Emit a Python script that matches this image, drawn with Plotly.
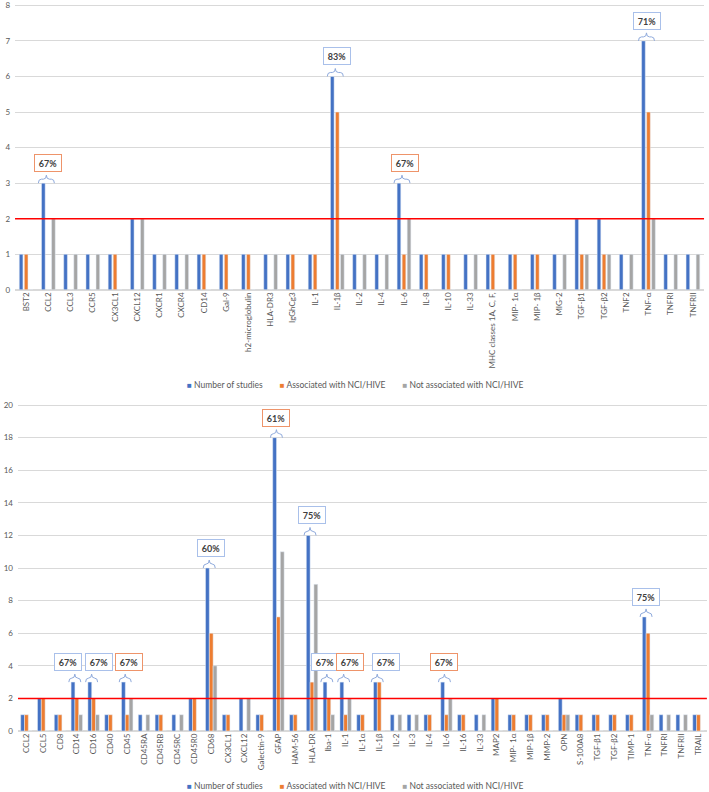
import plotly.graph_objects as go

# ---------------- data (top chart) ----------------
top_cats = ["BST2", "CCL2", "CCL3", "CCR5", "CX3CL1", "CXCL12", "CXCR1", "CXCR4", "CD14", "Gal-9",
            "h2-microglobulin", "HLA-DR3", "IgGhCg3", "IL-1", "IL-1β", "IL-2", "IL-4", "IL-6", "IL-8",
            "IL-10", "IL-33", "MHC classes 1A, C, F,", "MIP- 1α", "MIP- 1β", "MIG-2", "TGF-β1", "TGF-β2",
            "TNF2", "TNF-α", "TNFRI", "TNFRII"]
top_total = [1, 3, 1, 1, 1, 2, 1, 1, 1, 1, 1, 1, 1, 1, 6, 1, 1, 3, 1, 1, 1, 1, 1, 1, 1, 2, 2, 1, 7, 1, 1]
top_assoc = [1, 0, 0, 0, 1, 0, 0, 0, 1, 1, 1, 0, 1, 1, 5, 0, 0, 1, 1, 1, 0, 1, 1, 1, 0, 1, 1, 0, 5, 0, 0]
top_not   = [0, 2, 1, 1, 0, 2, 1, 1, 0, 0, 0, 1, 0, 0, 1, 1, 1, 2, 0, 0, 1, 0, 0, 0, 1, 1, 1, 1, 2, 1, 1]

top_pct_cats = ["CCL2", "IL-1β", "IL-6", "TNF-α"]
top_pct_text = ["67%", "83%", "67%", "71%"]
top_pct_kind = ["orange", "blue", "orange", "blue"]
top_pct_shift = [0, 0, 1, -1]

# ---------------- data (bottom chart) ----------------
bot_cats = ["CCL2", "CCL5", "CD8", "CD14", "CD16", "CD40", "CD45", "CD45RA", "CD45RB", "CD45RC", "CD45R0",
            "CD68", "CX3CL1", "CXCL12", "Galectin-9", "GFAP", "HAM-56", "HLA-DR", "Iba-1", "IL-1", "IL-1α",
            "IL-1β", "IL-2", "IL-3", "IL-4", "IL-6", "IL-16", "IL-33", "MAP2", "MIP- 1α", "MIP-1β", "MMP-2",
            "OPN", "S-100A8", "TGF-β1", "TGF-β2", "TIMP-1", "TNF-α", "TNFRI", "TNFRII", "TRAIL"]
bot_total = [1, 2, 1, 3, 3, 1, 3, 1, 1, 1, 2, 10, 1, 2, 1, 18, 1, 12, 3, 3, 1, 3, 1, 1, 1, 3, 1, 1, 2, 1, 1, 1,
             2, 1, 1, 1, 1, 7, 1, 1, 1]
bot_assoc = [1, 2, 1, 2, 2, 1, 1, 0, 1, 0, 2, 6, 1, 0, 1, 7, 1, 3, 2, 1, 1, 3, 0, 0, 1, 1, 1, 0, 2, 1, 1, 1,
             1, 1, 1, 1, 1, 6, 0, 0, 1]
bot_not   = [0, 0, 0, 1, 1, 0, 2, 1, 0, 1, 0, 4, 0, 2, 0, 11, 0, 9, 1, 2, 0, 0, 1, 1, 0, 2, 0, 1, 0, 0, 0, 0,
             1, 0, 0, 0, 0, 1, 1, 1, 0]

bot_pct_cats = ["CD14", "CD16", "CD45", "CD68", "GFAP", "HLA-DR", "Iba-1", "IL-1", "IL-1β", "IL-6", "TNF-α"]
bot_pct_text = ["67%", "67%", "67%", "60%", "61%", "75%", "67%", "67%", "67%", "67%", "75%"]
bot_pct_kind = ["blue", "blue", "orange", "blue", "orange", "blue", "blue", "orange", "blue", "orange", "blue"]
bot_pct_shift = [-9, 5, 2, 0, -2, 0, -4, 4, 7, -2, -2]

series_names = ["Number of studies", "Associated with NCI/HIVE", "Not associated with NCI/HIVE"]
threshold = 2

BLUE, ORANGE, GRAY = "#4472C4", "#ED7D31", "#A5A5A5"
BOX = {"blue": "#A9C0EA", "orange": "#EE946A"}
TXT = "#595959"
FONT = "Lato"

fig = go.Figure()

# bars
for vals, col, name in zip([top_total, top_assoc, top_not], [BLUE, ORANGE, GRAY], series_names):
    fig.add_trace(go.Bar(x=top_cats, y=vals, name=name, marker_color=col, width=0.165,
                         xaxis="x", yaxis="y", showlegend=False))
for vals, col, name in zip([bot_total, bot_assoc, bot_not], [BLUE, ORANGE, GRAY], series_names):
    fig.add_trace(go.Bar(x=bot_cats, y=vals, name=name, marker_color=col,
                         xaxis="x2", yaxis="y2", showlegend=False))


def brace_path(half, h):
    c = -2
    return (f"M{c-half},0 Q{c-half},{h/2} {c-half+3},{h/2} L{c-3},{h/2} Q{c},{h/2} {c},{h} "
            f"Q{c},{h/2} {c+3},{h/2} L{c+half-3},{h/2} Q{c+half},{h/2} {c+half},0")


def add_pcts(cats, totals, pcats, ptext, pkind, pshift, xr, yr, half):
    for cat, t, k, s in zip(pcats, ptext, pkind, pshift):
        v = totals[cats.index(cat)]
        fig.add_annotation(x=cat, y=v, xref=xr, yref=yr, text=f"<b>{t}</b>", showarrow=False,
                           yanchor="bottom", yshift=11, xshift=s, width=20, height=10,
                           bordercolor=BOX[k], borderwidth=1, borderpad=3, bgcolor="white",
                           font=dict(family=FONT, size=9, color="#404040"))
        fig.add_shape(type="path", xref=xr, yref=yr, xsizemode="pixel", ysizemode="pixel",
                      xanchor=cat, yanchor=v, path=brace_path(half, 8),
                      line=dict(color="#8FAADC", width=1))


add_pcts(top_cats, top_total, top_pct_cats, top_pct_text, top_pct_kind, top_pct_shift, "x", "y", 8)
add_pcts(bot_cats, bot_total, bot_pct_cats, bot_pct_text, bot_pct_kind, bot_pct_shift, "x2", "y2", 6)

# threshold lines
for xr, yr in [("x domain", "y"), ("x2 domain", "y2")]:
    fig.add_shape(type="line", xref=xr, yref=yr, x0=0, x1=1, y0=threshold, y1=threshold,
                  line=dict(color="#FF0000", width=1.5))

# legends (Excel style: small square right before the text)
legend_text = "\u2002\u2002\u2002\u2002".join(
    f"<span style='color:{c};font-size:8px'>■</span> {n}" for c, n in zip([BLUE, ORANGE, GRAY], series_names))
for ypos in [1 - 385 / 792, 1 - 786 / 792]:
    fig.add_annotation(x=0.5, y=ypos, xref="paper", yref="paper", text=legend_text, showarrow=False,
                       xanchor="center", yanchor="middle", font=dict(family=FONT, size=8.5, color=TXT))

axis_font = dict(family=FONT, size=8, color=TXT)
xcommon = dict(type="category", tickangle=-90, tickfont=axis_font, showgrid=False, showline=False,
               ticks="", zeroline=False, automargin=False)
ycommon = dict(tickfont=axis_font, gridcolor="#D9D9D9", gridwidth=1, zeroline=True, zerolinecolor="#D9D9D9",
               showline=False, ticks="", ticklabelstandoff=4, automargin=False, ticklabeloverflow="allow")

fig.update_layout(
    width=709, height=792,
    margin=dict(l=0, r=0, t=0, b=0),
    paper_bgcolor="white", plot_bgcolor="white",
    barmode="group", bargap=0.32, bargroupgap=0,
    showlegend=False,
    font=dict(family=FONT, size=9, color=TXT),
    xaxis=dict(domain=[0.0212, 0.993], anchor="y", **xcommon),
    yaxis=dict(domain=[0.634, 1.0], anchor="x", range=[0, 8.15], dtick=1, **ycommon),
    xaxis2=dict(domain=[0.0254, 0.997], anchor="y2", **xcommon),
    yaxis2=dict(domain=[0.077, 0.4937], anchor="x2", range=[0, 20.25], dtick=2, **ycommon),
)

fig.write_html("out.html", config={"displayModeBar": False},
               post_script="document.body.style.margin='0px';")
